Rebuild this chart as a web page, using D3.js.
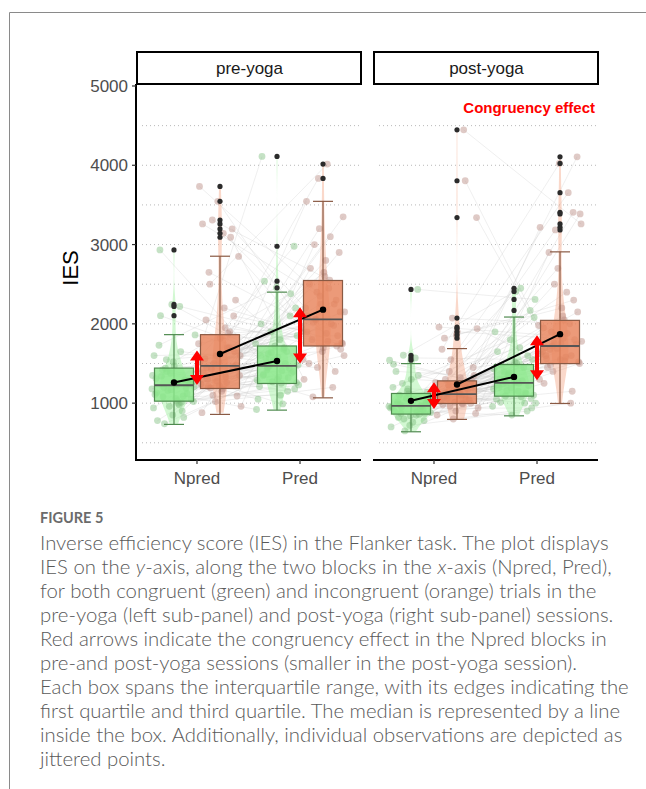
<!DOCTYPE html>
<html>
<head>
<meta charset="utf-8">
<script src="https://cdn.jsdelivr.net/npm/d3@7"></script>
<style>
  body { margin: 0; background: #fff; }
  svg { display: block; }
</style>
</head>
<body>
<svg id="chart" width="646" height="789"></svg>
<script>
const sessions = ['pre-yoga', 'post-yoga'];
const blocks = ['Npred', 'Pred'];
const trials = ['congruent', 'incongruent'];
const yTicks = [1000, 2000, 3000, 4000, 5000];
const gridLines = [500, 1000, 1500, 2000, 2500, 3000, 3500, 4000, 4500];

// individual observations (IES), one entry per participant
const preNpredCon = [1180, 980, 1420, 1260, 850, 1310, 1090, 1550, 1020, 1230, 2933, 1120, 1380, 940, 1650, 1200, 1050, 1470, 780, 1290, 1160, 1860, 1000, 1340, 1240, 2245, 1110, 900, 1440, 1270, 1060, 1730, 1190, 960, 1350, 2220, 1080, 1250, 1520, 1130, 820, 1400, 1210, 1030, 2103, 1290, 1170, 1600, 1010, 740];
const preNpredInc = [1400, 1950, 1210, 2300, 1520, 880, 1700, 3310, 1350, 1180, 2050, 1460, 1600, 3733, 1260, 2500, 1090, 1820, 1380, 3092, 1500, 960, 2200, 1300, 1650, 3545, 1240, 1880, 1430, 2850, 1150, 1560, 3197, 1020, 1750, 1330, 2650, 1480, 1220, 3260, 1900, 1100, 1600, 3142, 1450, 2100, 1280, 1520, 1700, 1190];
const prePredCon = [1470, 1260, 1800, 1350, 2100, 1550, 920, 1680, 1420, 2979, 1300, 1600, 1150, 1900, 1480, 1250, 2538, 1380, 1720, 1050, 1500, 1620, 2200, 1330, 4111, 1440, 1270, 1750, 990, 1560, 1400, 2455, 1210, 1650, 1490, 1850, 1100, 1360, 2380, 1520, 1290, 1700, 1450, 1180, 1580, 2000, 1320, 1640, 1230, 1410];
const prePredInc = [2060, 1750, 2800, 1500, 2300, 3200, 1900, 2550, 1080, 2150, 1700, 3545, 1980, 2400, 1600, 4015, 2700, 1850, 2250, 1300, 2000, 3000, 1760, 2600, 2100, 1400, 3834, 1950, 2450, 1800, 2900, 1650, 2200, 1200, 2050, 3350, 1880, 2500, 1720, 2350, 1550, 3100, 2020, 1680, 2650, 1900, 2250, 1450, 2150, 1780];
const postNpredCon = [960, 850, 1100, 1010, 720, 1200, 930, 1604, 880, 1050, 990, 780, 1150, 940, 2434, 870, 1030, 1300, 900, 960, 650, 1080, 1570, 820, 1000, 1120, 950, 860, 1250, 1010, 760, 1400, 920, 1060, 1541, 890, 980, 1140, 840, 1490, 970, 800, 1090, 930, 1020, 870, 1180, 700, 1350, 950];
const postNpredInc = [1110, 1000, 1300, 1200, 900, 1960, 1050, 1400, 3340, 1150, 980, 1250, 800, 1120, 4447, 1060, 1350, 1900, 1020, 1180, 1550, 940, 1100, 1820, 1280, 1010, 1080, 3805, 1230, 870, 1150, 1680, 1040, 2073, 1260, 990, 1130, 1450, 1860, 1090, 1200, 960, 1940, 1320, 1070, 1000, 1160, 850, 1240, 1120];
const postPredCon = [1250, 1100, 1500, 1300, 900, 1800, 1180, 2449, 1400, 1060, 1260, 1650, 1000, 1350, 2308, 1150, 1480, 1220, 850, 1900, 1280, 1090, 1550, 2409, 1200, 1120, 1380, 960, 1700, 1240, 2170, 1320, 1050, 1450, 1160, 2080, 1270, 1010, 1600, 1190, 1430, 1080, 1300, 940, 1520, 1230, 1130, 1360, 1000, 1250];
const postPredInc = [1720, 1500, 2100, 1600, 3406, 1850, 1300, 2400, 1680, 4107, 1550, 1950, 1000, 1760, 3260, 2050, 1450, 1800, 2700, 1620, 3654, 1900, 1520, 2200, 1700, 1150, 3185, 1980, 1580, 2900, 1740, 4023, 1650, 2000, 1400, 3386, 1820, 1560, 2300, 1690, 3218, 1880, 1480, 2150, 1750, 1250, 1600, 2500, 1780, 1530];

// box summaries, order: Npred-con, Npred-inc, Pred-con, Pred-inc
const preQ1 = [1025, 1185, 1248, 1721];
const preMedian = [1226, 1469, 1469, 2057];
const preQ3 = [1442, 1864, 1721, 2547];
const preLow = [732, 858, 912, 1067];
const preHigh = [1864, 2853, 2400, 3545];
const preMean = [1260, 1620, 1532, 2179];
const postQ1 = [862, 996, 1088, 1499];
const postMedian = [966, 1113, 1255, 1721];
const postQ3 = [1122, 1281, 1487, 2044];
const postLow = [639, 795, 840, 996];
const postHigh = [1499, 1688, 2086, 2908];
const postMean = [1029, 1235, 1331, 1870];

// congruency-effect arrows [from, to] per block
const preArrows = [[1230, 1665], [1500, 2210]];
const postArrows = [[925, 1265], [1290, 1855]];

const captionLines = [
  'Inverse efficiency score (IES) in the Flanker task. The plot displays',
  'IES on the |y|-axis, along the two blocks in the |x|-axis (Npred, Pred),',
  'for both congruent (green) and incongruent (orange) trials in the',
  'pre-yoga (left sub-panel) and post-yoga (right sub-panel) sessions.',
  'Red arrows indicate the congruency effect in the Npred blocks in',
  'pre-and post-yoga sessions (smaller in the post-yoga session).',
  'Each box spans the interquartile range, with its edges indicating the',
  'first quartile and third quartile. The median is represented by a line',
  'inside the box. Additionally, individual observations are depicted as',
  'jittered points.'
];

const obs = [
  [[preNpredCon, preNpredInc], [prePredCon, prePredInc]],
  [[postNpredCon, postNpredInc], [postPredCon, postPredInc]]
];
const stats = [
  {q1: preQ1, med: preMedian, q3: preQ3, lo: preLow, hi: preHigh, mean: preMean, arrows: preArrows},
  {q1: postQ1, med: postMedian, q3: postQ3, lo: postLow, hi: postHigh, mean: postMean, arrows: postArrows}
];

const svg = d3.select('#chart');
const plotTop = 84, plotBottom = 460;
const panels = [[136, 361], [373, 598]];
const axisFont = 'Arial, Liberation Sans, sans-serif';

const y = d3.scaleLinear().domain([283, 5025]).range([plotBottom, plotTop]);
const dodge = d3.scalePoint().domain(trials).range([-23, 23]);
const boxW = 39;

const fills = {congruent: '#8ce88c', incongruent: '#e8845c'};
const strokes = {congruent: '#4f8a4f', incongruent: '#8a5a44'};
const pointCol = {congruent: '#7fbf7f', incongruent: '#b98a80'};
const violinCol = {congruent: '#9cf09c', incongruent: '#f5a98a'};

// page frame
svg.append('path')
  .attr('d', 'M9.5,789V12.5H646')
  .attr('fill', 'none')
  .attr('stroke', '#8a8a8a')
  .attr('stroke-width', 1);

// shared density scale for violins
const kde = (values, bw, pts) => pts.map(t => [t, d3.mean(values, v => Math.exp(-0.5 * ((t - v) / bw) ** 2)) / (bw * Math.sqrt(2 * Math.PI))]);
const densities = [];
obs.forEach((s, si) => s.forEach((b, bi) => b.forEach((vals, ti) => {
  const sd = d3.deviation(vals);
  const bw = 0.9 * sd * Math.pow(vals.length, -0.2);
  const [mn, mx] = d3.extent(vals);
  const pts = d3.range(0, 81).map(k => mn + (mx - mn) * k / 80);
  densities.push({si, bi, ti, dens: kde(vals, bw, pts)});
})));
const maxDens = d3.max(densities, d => d3.max(d.dens, p => p[1]));
const vw = d3.scaleLinear().domain([0, maxDens]).range([0, 21]);

const jitter = i => (((i * 0.6180339887) % 1) - 0.5) * 44;

sessions.forEach((session, si) => {
  const [x0, x1] = panels[si];
  const x = d3.scalePoint().domain(blocks).range([x0, x1]).padding(0.592);
  const g = svg.append('g');
  const st = stats[si];

  // dotted grid
  g.selectAll('.grid').data(gridLines).join('line')
    .attr('x1', x0 + 6).attr('x2', x1)
    .attr('y1', d => y(d)).attr('y2', d => y(d))
    .attr('stroke', '#b8b8b8').attr('stroke-width', 1)
    .attr('stroke-dasharray', '1,3');

  // participant lines between blocks
  trials.forEach((t, ti) => {
    const a = obs[si][0][ti], b = obs[si][1][ti];
    g.append('g').selectAll('line').data(a).join('line')
      .attr('x1', (d, i) => x('Npred') + dodge(t) + jitter(i))
      .attr('x2', (d, i) => x('Pred') + dodge(t) + jitter(i + 7))
      .attr('y1', d => y(d))
      .attr('y2', (d, i) => y(b[i]))
      .attr('stroke', '#c4c4c4').attr('stroke-opacity', 0.4).attr('stroke-width', 0.7);
  });

  // violins
  densities.filter(d => d.si === si).forEach(d => {
    const cx = x(blocks[d.bi]) + dodge(trials[d.ti]);
    const area = d3.area()
      .x0(p => cx - vw(p[1])).x1(p => cx + vw(p[1]))
      .y(p => y(p[0]))
      .curve(d3.curveBasis);
    g.append('path')
      .attr('d', area(d.dens))
      .attr('fill', violinCol[trials[d.ti]]).attr('fill-opacity', 0.45);
  });

  // jittered points
  blocks.forEach((b, bi) => trials.forEach((t, ti) => {
    const cx = x(b) + dodge(t);
    g.append('g').selectAll('circle').data(obs[si][bi][ti]).join('circle')
      .attr('cx', (d, i) => cx + jitter(bi ? i + 7 : i))
      .attr('cy', d => y(d))
      .attr('r', 3.4)
      .attr('fill', pointCol[t]).attr('fill-opacity', 0.45);
  }));

  // boxes
  blocks.forEach((b, bi) => trials.forEach((t, ti) => {
    const k = bi * 2 + ti;
    const cx = x(b) + dodge(t);
    g.append('line').attr('x1', cx).attr('x2', cx)
      .attr('y1', y(st.lo[k])).attr('y2', y(st.hi[k]))
      .attr('stroke', strokes[t]).attr('stroke-width', 1.2);
    [st.lo[k], st.hi[k]].forEach(v => g.append('line')
      .attr('x1', cx - 10).attr('x2', cx + 10)
      .attr('y1', y(v)).attr('y2', y(v))
      .attr('stroke', strokes[t]).attr('stroke-width', 1.2));
    g.append('rect')
      .attr('x', cx - boxW / 2).attr('width', boxW)
      .attr('y', y(st.q3[k])).attr('height', y(st.q1[k]) - y(st.q3[k]))
      .attr('fill', fills[t]).attr('fill-opacity', 0.82)
      .attr('stroke', strokes[t]).attr('stroke-width', 1.2);
    g.append('line')
      .attr('x1', cx - boxW / 2).attr('x2', cx + boxW / 2)
      .attr('y1', y(st.med[k])).attr('y2', y(st.med[k]))
      .attr('stroke', '#555').attr('stroke-width', 1.8);
    // outliers
    g.append('g').selectAll('circle')
      .data(obs[si][bi][ti].filter(v => v > st.hi[k] || v < st.lo[k]))
      .join('circle')
      .attr('cx', cx).attr('cy', d => y(d)).attr('r', 2.6)
      .attr('fill', '#2b2b2b');
  }));

  // mean lines
  trials.forEach((t, ti) => {
    const pts = blocks.map((b, bi) => [x(b) + dodge(t), y(st.mean[bi * 2 + ti])]);
    g.append('path').attr('d', d3.line()(pts))
      .attr('stroke', '#000').attr('stroke-width', 2).attr('fill', 'none');
    g.append('g').selectAll('circle').data(pts).join('circle')
      .attr('cx', p => p[0]).attr('cy', p => p[1]).attr('r', 3.2).attr('fill', '#000');
  });

  // congruency arrows
  blocks.forEach((b, bi) => {
    const [lo, hi] = st.arrows[bi];
    const cx = x(b), yl = y(lo), yh = y(hi), hh = 10, hw = 7;
    g.append('line').attr('x1', cx).attr('x2', cx)
      .attr('y1', yh + hh - 1).attr('y2', yl - hh + 1)
      .attr('stroke', '#ff0000').attr('stroke-width', 4);
    g.append('path')
      .attr('d', `M${cx},${yh}L${cx - hw},${yh + hh}L${cx + hw},${yh + hh}Z M${cx},${yl}L${cx - hw},${yl - hh}L${cx + hw},${yl - hh}Z`)
      .attr('fill', '#ff0000');
  });

  // x axis
  g.append('line').attr('x1', x0).attr('x2', x1)
    .attr('y1', plotBottom).attr('y2', plotBottom)
    .attr('stroke', '#000').attr('stroke-width', 2);
  g.append('g').selectAll('line').data(blocks).join('line')
    .attr('x1', d => x(d)).attr('x2', d => x(d))
    .attr('y1', plotBottom).attr('y2', plotBottom + 4)
    .attr('stroke', '#333').attr('stroke-width', 1.2);
  g.append('g').selectAll('text').data(blocks).join('text')
    .attr('x', d => x(d)).attr('y', plotBottom + 24)
    .attr('text-anchor', 'middle')
    .attr('font-family', axisFont).attr('font-size', 17)
    .attr('fill', '#4d4d4d')
    .text(d => d);

  // strip
  g.append('rect').attr('x', x0 + 1).attr('y', 52).attr('width', x1 - x0 - 1).attr('height', 32)
    .attr('fill', '#fff').attr('stroke', '#000').attr('stroke-width', 2);
  g.append('text').attr('x', (x0 + x1) / 2 + 1).attr('y', 74)
    .attr('text-anchor', 'middle')
    .attr('font-family', axisFont).attr('font-size', 17)
    .attr('fill', '#1a1a1a')
    .text(session);
});

// y axis
const yAxis = svg.append('g').attr('transform', 'translate(136,0)');
yAxis.append('line').attr('x1', 0).attr('x2', 0).attr('y1', plotTop).attr('y2', plotBottom + 1)
  .attr('stroke', '#000').attr('stroke-width', 2);
yAxis.append('g').selectAll('line').data(yTicks).join('line')
  .attr('x1', -4).attr('x2', 0)
  .attr('y1', d => y(d)).attr('y2', d => y(d))
  .attr('stroke', '#333').attr('stroke-width', 1.2);
yAxis.append('g').selectAll('text').data(yTicks).join('text')
  .attr('x', -8).attr('y', d => y(d) + 6)
  .attr('text-anchor', 'end')
  .attr('font-family', axisFont).attr('font-size', 17)
  .attr('fill', '#4d4d4d')
  .text(d => d);

svg.append('text')
  .attr('transform', 'translate(78,268) rotate(-90)')
  .attr('text-anchor', 'middle')
  .attr('font-family', axisFont).attr('font-size', 22)
  .attr('fill', '#000')
  .text('IES');

svg.append('text')
  .attr('x', 595).attr('y', 113)
  .attr('text-anchor', 'end')
  .attr('font-family', axisFont).attr('font-size', 15)
  .attr('font-weight', 'bold')
  .attr('fill', '#ff0000')
  .text('Congruency effect');

// caption
svg.append('text')
  .attr('x', 40).attr('y', 523)
  .attr('font-family', 'Lato, sans-serif').attr('font-size', 14.5)
  .attr('font-weight', 'bold')
  .attr('fill', '#6b6b6b')
  .text('FIGURE 5');

const cap = svg.append('g')
  .attr('font-family', 'Lato, sans-serif').attr('font-size', 18.5)
  .attr('font-weight', 300)
  .attr('fill', '#595959');
captionLines.forEach((line, i) => {
  const t = cap.append('text').attr('x', 40).attr('y', 550 + i * 24);
  line.split('|').forEach((part, j) => {
    t.append('tspan').attr('font-style', j % 2 ? 'italic' : null).text(part);
  });
});
// fit the first caption line to its width in the figure (40 -> 609)
const firstW = cap.select('text').node().getComputedTextLength();
cap.attr('font-size', 18.5 * 569 / firstW);
</script>
</body>
</html>
